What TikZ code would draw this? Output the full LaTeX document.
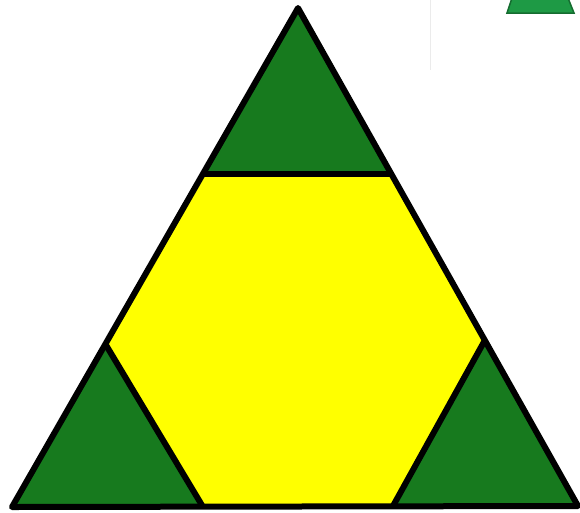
\documentclass[tikz,border=0pt]{standalone}
\definecolor{leaf}{HTML}{177A1E}
\definecolor{hexy}{HTML}{FFFF00}
\definecolor{chip}{HTML}{1E9A45}
\tikzset{edge/.style={line width=6pt, line join=round, draw=black}}
\begin{document}
\begin{tikzpicture}[x=1pt,y=-1pt]
\useasboundingbox (0,0) rectangle (580,512);
% vertices
\coordinate (A) at (298,8);
\coordinate (B) at (12,507);
\coordinate (C) at (578,506);
\coordinate (T1) at (203,174);
\coordinate (T2) at (391,174);
\coordinate (R1) at (485,340);
\coordinate (R2) at (393,506);
\coordinate (L1) at (203,507);
\coordinate (L2) at (107,342);
\coordinate (Lt) at (106,345);
% fills
\fill[hexy] (T1) -- (T2) -- (R1) -- (R2) -- (L1) -- (L2) -- cycle;
\fill[leaf] (A) -- (T2) -- (T1) -- cycle;
\fill[leaf] (R1) -- (C) -- (R2) -- cycle;
\fill[leaf] (Lt) -- (L1) -- (B) -- cycle;
% outlines
\draw[edge] (A) -- (C) -- (B) -- cycle;
\draw[edge] (T1) -- (T2);
\draw[edge] (R1) -- (R2);
\draw[edge] (Lt) -- (L1);
% top-right artifact
\draw[draw=black!30!chip, fill=chip, line width=1.5pt] (512,-2) -- (568,-2) -- (574,13) -- (507,13) -- cycle;
\draw[black!8, line width=0.6pt] (430,0) -- (430,70);
\end{tikzpicture}
\end{document}
